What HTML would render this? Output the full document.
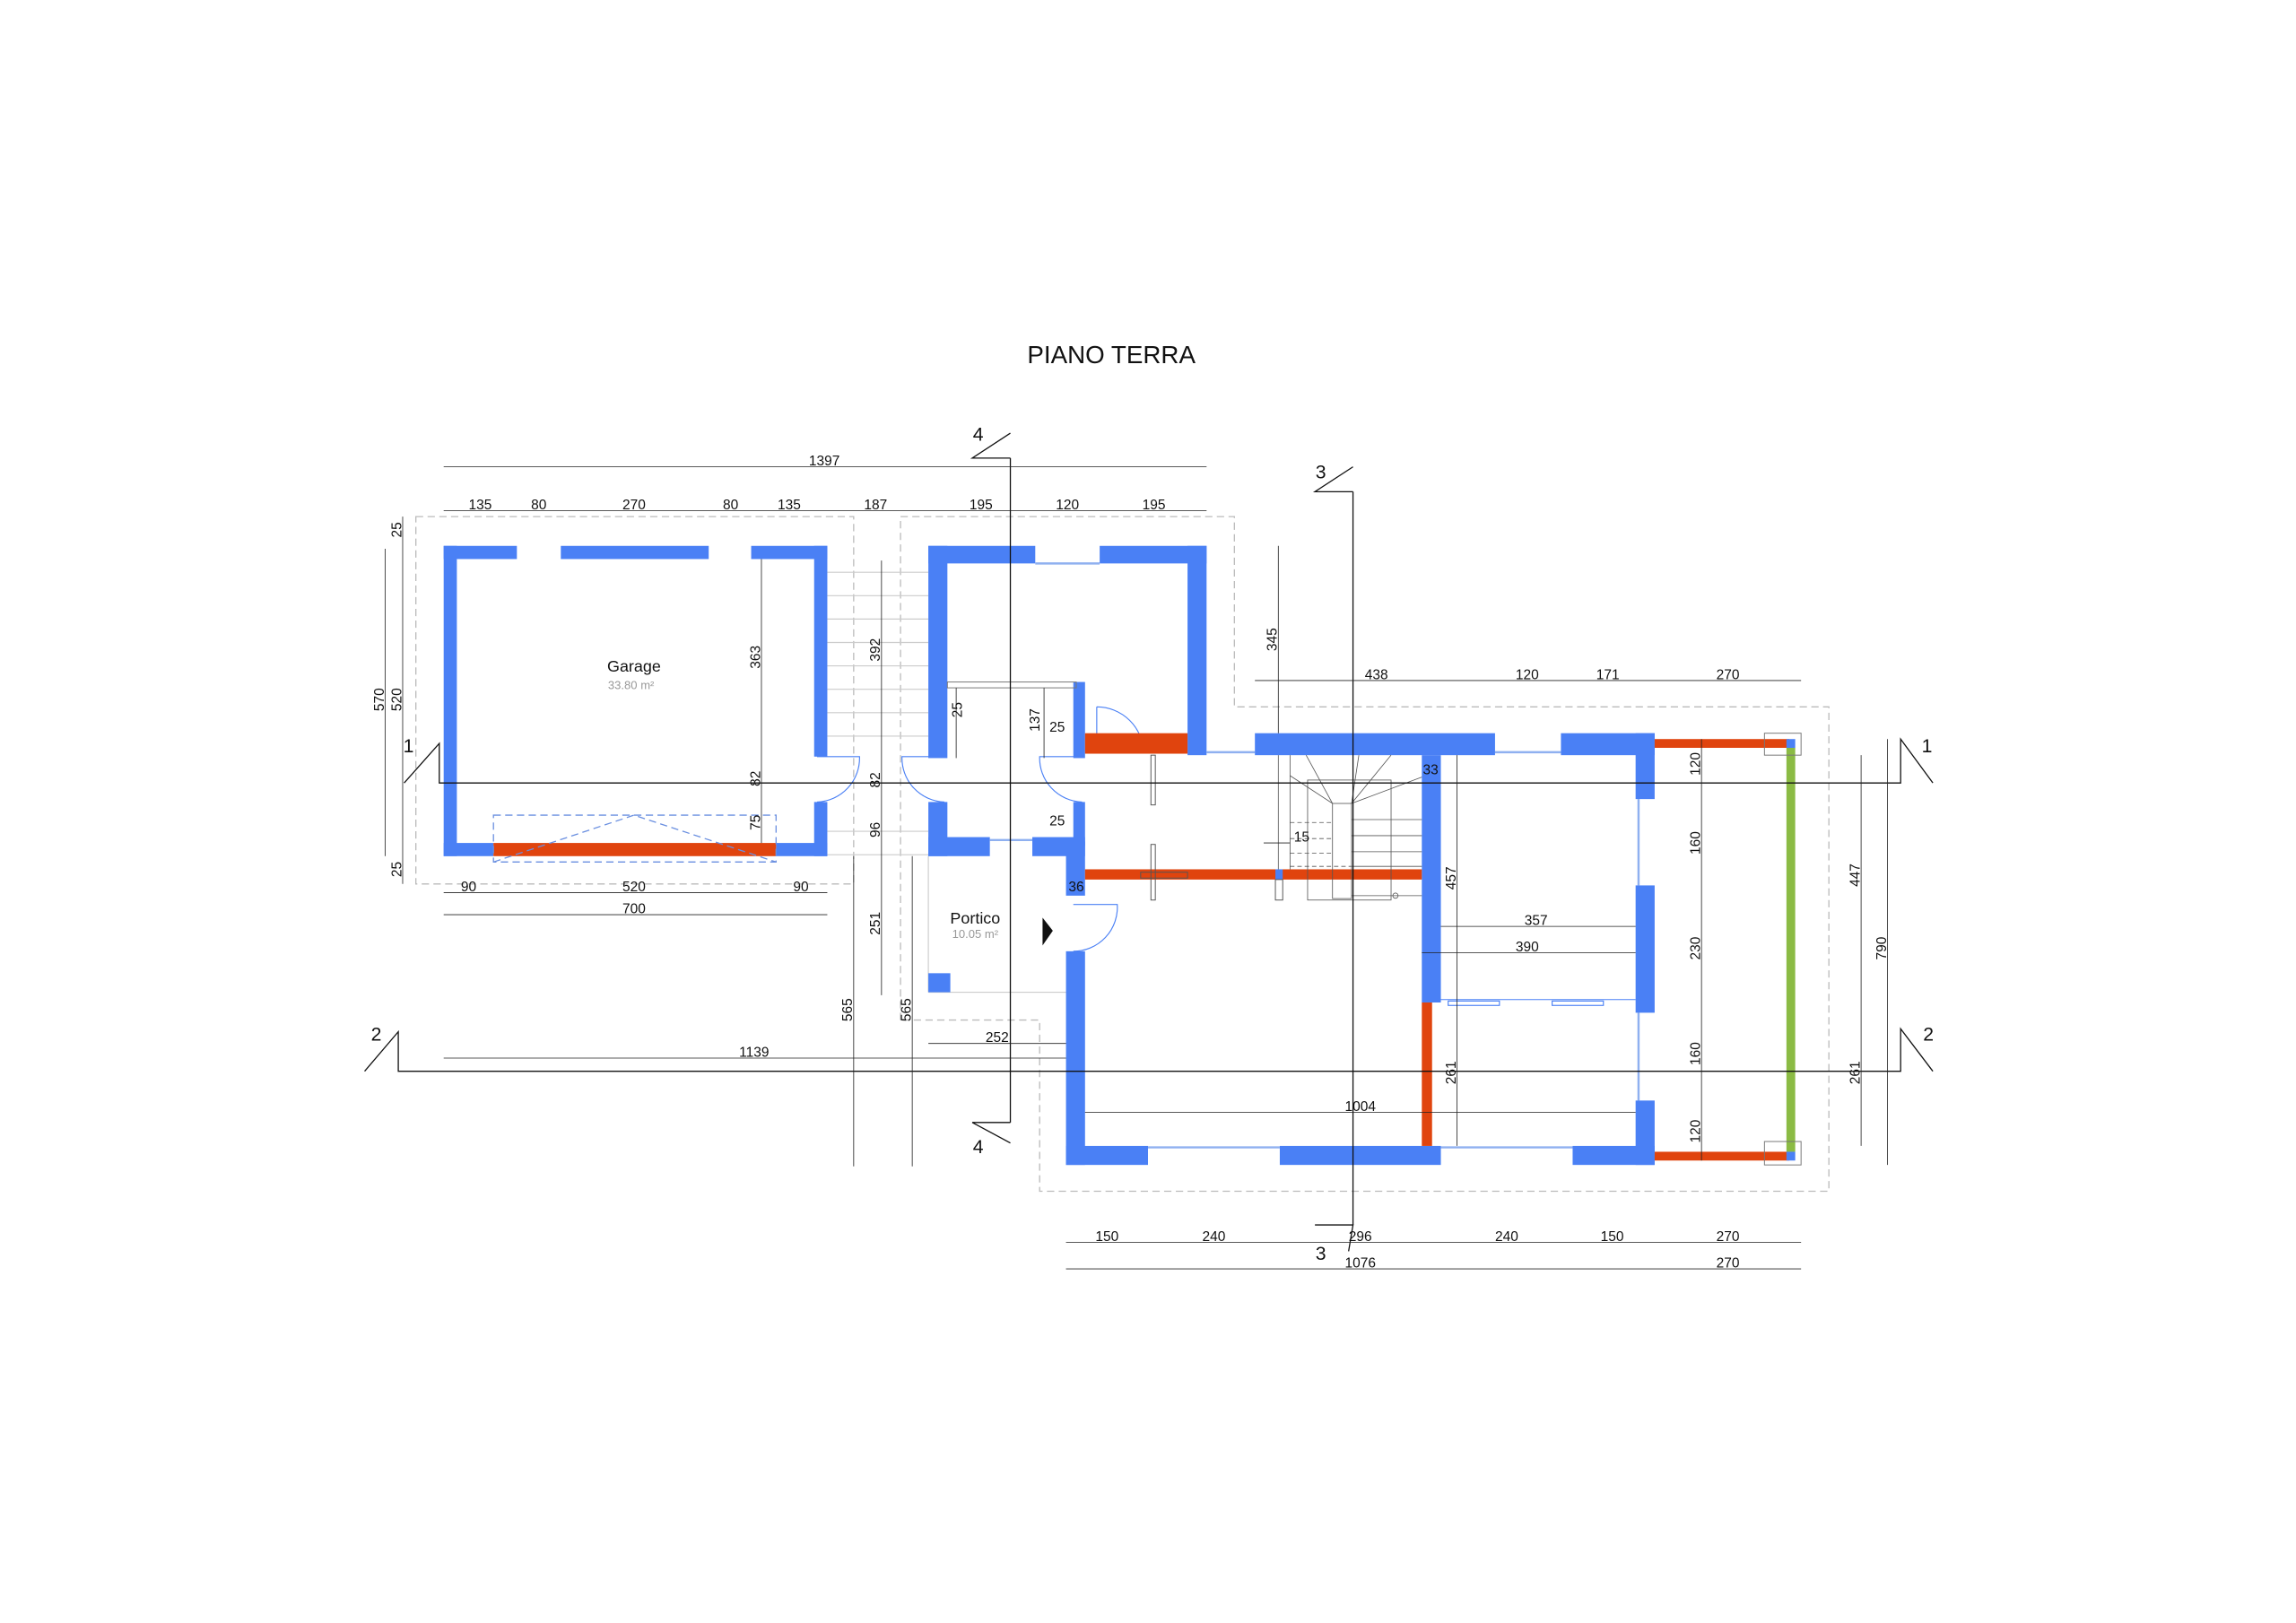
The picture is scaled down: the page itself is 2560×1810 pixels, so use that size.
<!DOCTYPE html>
<html><head><meta charset="utf-8"><style>
html,body{margin:0;padding:0;background:#fff}
svg{display:block}
text{font-family:"Liberation Sans",sans-serif;fill:#111}
</style></head><body>
<svg width="2560" height="1810" viewBox="0 0 1568 1109" preserveAspectRatio="none" xmlns="http://www.w3.org/2000/svg">
<rect width="1568" height="1109" fill="#fff"/>
<text x="759" y="248" font-size="17" text-anchor="middle" font-family="DejaVu Sans Condensed, Liberation Sans Narrow, sans-serif">PIANO TERRA</text>

<g fill="none" stroke="#bbb" stroke-width="0.8" stroke-dasharray="5,3">
<rect x="284" y="353" width="299" height="251"/>
<polyline points="615,697 615,353 843,353 843,483 1249,483 1249,814 710,814 710,697 615,697"/>
</g>

<g stroke="#ccc" stroke-width="0.7" fill="none">
<line x1="565" y1="391" x2="634" y2="391"/><line x1="565" y1="407" x2="634" y2="407"/>
<line x1="565" y1="423" x2="634" y2="423"/><line x1="565" y1="439" x2="634" y2="439"/>
<line x1="565" y1="455" x2="634" y2="455"/><line x1="565" y1="471" x2="634" y2="471"/>
<line x1="565" y1="487" x2="634" y2="487"/><line x1="565" y1="503" x2="634" y2="503"/>
<line x1="565" y1="568" x2="634" y2="568"/><line x1="565" y1="584" x2="634" y2="584"/>
<line x1="634" y1="585" x2="634" y2="678"/><line x1="634" y1="678" x2="728" y2="678"/>
</g>

<g fill="#4a80f5">
<rect x="303" y="373" width="50" height="9"/>
<rect x="383" y="373" width="101" height="9"/>
<rect x="513" y="373" width="52" height="9"/>
<rect x="303" y="373" width="9" height="212"/>
<rect x="556" y="373" width="9" height="144"/>
<rect x="556" y="548" width="9" height="37"/>
<rect x="303" y="576" width="34" height="9"/>
<rect x="530" y="576" width="35" height="9"/>
</g>
<rect x="337" y="576" width="193" height="9" fill="#e0440e"/>
<g fill="none" stroke="#6a8fe0" stroke-width="0.8" stroke-dasharray="5,3">
<rect x="337" y="557" width="193" height="32"/>
<polyline points="337,589 433,557 530,589"/>
</g>
<text x="433" y="459" font-size="11" text-anchor="middle">Garage</text>
<text x="431" y="471" font-size="8" text-anchor="middle" style="fill:#999">33.80 m²</text>

<g fill="none" stroke="#4a80f5" stroke-width="0.7">
<path d="M558 517 L587 517 A30 30 0 0 1 558 548"/>
<path d="M645 517 L616 517 A30 30 0 0 0 645 548"/>
<path d="M739 517 L710 517 A30 30 0 0 0 739 548"/>
<path d="M749 483 L749 515 M749 483 A32 32 0 0 1 781 515"/>
<path d="M733 618 L763 618 A30 30 0 0 1 733 650"/>
</g>

<g fill="#4a80f5">
<rect x="634" y="373" width="73" height="12"/>
<rect x="751" y="373" width="73" height="12"/>
<rect x="634" y="373" width="13" height="145"/>
<rect x="634" y="548" width="13" height="37"/>
<rect x="634" y="572" width="42" height="13"/>
<rect x="705" y="572" width="36" height="13"/>
<rect x="811" y="373" width="13" height="143"/>
<rect x="733" y="466" width="8" height="52"/>
<rect x="733" y="548" width="8" height="30"/>
<rect x="728" y="575" width="13" height="37"/>
<rect x="728" y="650" width="13" height="146"/>
<rect x="634" y="665" width="15" height="13"/>
</g>
<g stroke="#8fb0f0" stroke-width="1.5">
<line x1="707" y1="385" x2="751" y2="385"/>
<line x1="676" y1="574" x2="705" y2="574"/>
<line x1="824" y1="514" x2="857" y2="514"/>
<line x1="1021" y1="514" x2="1066" y2="514"/>
<line x1="784" y1="784" x2="874" y2="784"/>
<line x1="984" y1="784" x2="1074" y2="784"/>
<line x1="1119" y1="546" x2="1119" y2="605"/>
<line x1="1119" y1="692" x2="1119" y2="752"/>
</g>
<rect x="647" y="466" width="88" height="4" fill="none" stroke="#777" stroke-width="0.6"/>
<rect x="741" y="501" width="70" height="14" fill="#e0440e"/>

<g fill="#4a80f5">
<rect x="857" y="501" width="164" height="15"/>
<rect x="1066" y="501" width="64" height="15"/>
<rect x="1117" y="501" width="13" height="45"/>
<rect x="1117" y="605" width="13" height="87"/>
<rect x="1117" y="752" width="13" height="44"/>
<rect x="728" y="783" width="56" height="13"/>
<rect x="874" y="783" width="110" height="13"/>
<rect x="1074" y="783" width="56" height="13"/>
<rect x="971" y="516" width="13" height="169"/>
</g>
<rect x="971" y="685" width="7" height="98" fill="#e0440e"/>
<rect x="741" y="594" width="230" height="7" fill="#e0440e"/>
<rect x="871" y="594" width="5" height="7" fill="#4a80f5"/>
<g fill="none" stroke="#555" stroke-width="0.6">
<rect x="786" y="516" width="3" height="34"/><rect x="786" y="577" width="3" height="38"/>
<rect x="779" y="596" width="32" height="4"/>
<rect x="871" y="601" width="5" height="14"/>
</g>
<g fill="none" stroke="#555" stroke-width="0.5">
<line x1="873" y1="516" x2="873" y2="594"/><line x1="881" y1="516" x2="881" y2="594"/>
<rect x="893" y="533" width="57" height="82"/>
<rect x="910" y="549" width="13" height="65"/>
<line x1="892" y1="516" x2="910" y2="549"/><line x1="928" y1="516" x2="923" y2="549"/>
<line x1="950" y1="516" x2="923" y2="549"/><line x1="881" y1="530" x2="910" y2="549"/>
<line x1="971" y1="531" x2="923" y2="549"/>
<line x1="923" y1="560" x2="971" y2="560"/><line x1="923" y1="571" x2="971" y2="571"/>
<line x1="923" y1="582" x2="971" y2="582"/><line x1="923" y1="592" x2="971" y2="592"/>
<line x1="923" y1="612" x2="971" y2="612"/>
<circle cx="953" cy="612" r="1.8"/>
</g>
<g fill="none" stroke="#555" stroke-width="0.5" stroke-dasharray="3,2">
<line x1="881" y1="562" x2="910" y2="562"/><line x1="881" y1="573" x2="910" y2="573"/>
<line x1="881" y1="583" x2="910" y2="583"/><line x1="881" y1="592" x2="923" y2="592"/>
</g>
<g fill="none" stroke="#4a80f5" stroke-width="0.7">
<rect x="989" y="684" width="35" height="3"/><rect x="1060" y="684" width="35" height="3"/>
</g>
<line x1="984" y1="683" x2="1117" y2="683" stroke="#4a80f5" stroke-width="0.6"/>
<rect x="1130" y="505" width="92" height="6" fill="#e0440e"/>
<rect x="1130" y="787" width="92" height="6" fill="#e0440e"/>
<rect x="1220" y="511" width="6" height="276" fill="#8bbb44"/>
<rect x="1220" y="505" width="6" height="6" fill="#4a80f5"/>
<rect x="1220" y="787" width="6" height="6" fill="#4a80f5"/>
<g fill="none" stroke="#777" stroke-width="0.6">
<rect x="1205" y="501" width="25" height="15"/><rect x="1205" y="780" width="25" height="16"/>
</g>

<text x="666" y="631" font-size="11" text-anchor="middle">Portico</text>
<text x="666" y="641" font-size="8" text-anchor="middle" style="fill:#999">10.05 m²</text>
<polygon points="712,627 719,636 712,646" fill="#111"/>

<g fill="none" stroke="#111" stroke-width="0.8">
<polyline points="276,535 300,508 300,535 1298,535 1298,505 1320,535"/>
<polyline points="249,732 272,705 272,732 1298,732 1298,703 1320,732"/>
<polyline points="690,313 664,313 690,296"/><line x1="690" y1="313" x2="690" y2="767"/>
<polyline points="690,781 664,767 690,767"/>
<polyline points="924,336 898,336 924,319"/><line x1="924" y1="336" x2="924" y2="837"/>
<polyline points="898,837 924,837 921,855"/>
</g>
<g font-size="13">
<text x="279" y="514" text-anchor="middle">1</text><text x="1316" y="514" text-anchor="middle">1</text>
<text x="257" y="711" text-anchor="middle">2</text><text x="1317" y="711" text-anchor="middle">2</text>
<text x="668" y="301" text-anchor="middle">4</text><text x="668" y="788" text-anchor="middle">4</text>
<text x="902" y="327" text-anchor="middle">3</text><text x="902" y="861" text-anchor="middle">3</text>
</g>

<g stroke="#222" stroke-width="0.5" fill="none">
<line x1="303" y1="319" x2="824" y2="319"/>
<line x1="303" y1="349" x2="824" y2="349"/>
<line x1="303" y1="610" x2="565" y2="610"/>
<line x1="303" y1="625" x2="565" y2="625"/>
<line x1="263" y1="375" x2="263" y2="585"/>
<line x1="275" y1="353" x2="275" y2="604"/>
<line x1="520" y1="382" x2="520" y2="576"/>
<line x1="602" y1="383" x2="602" y2="680"/>
<line x1="583" y1="585" x2="583" y2="797"/>
<line x1="623" y1="585" x2="623" y2="797"/>
<line x1="873" y1="373" x2="873" y2="501"/>
<line x1="857" y1="465" x2="1230" y2="465"/>
<line x1="1162" y1="505" x2="1162" y2="793"/>
<line x1="1271" y1="516" x2="1271" y2="783"/>
<line x1="1289" y1="505" x2="1289" y2="796"/>
<line x1="995" y1="516" x2="995" y2="783"/>
<line x1="984" y1="633" x2="1117" y2="633"/>
<line x1="971" y1="651" x2="1117" y2="651"/>
<line x1="741" y1="760" x2="1117" y2="760"/>
<line x1="634" y1="713" x2="728" y2="713"/>
<line x1="303" y1="723" x2="728" y2="723"/>
<line x1="728" y1="849" x2="1230" y2="849"/>
<line x1="728" y1="867" x2="1230" y2="867"/>
<line x1="653" y1="470" x2="653" y2="518"/>
<line x1="713" y1="470" x2="713" y2="518"/>
<line x1="863" y1="576" x2="881" y2="576"/>
</g>

<g font-size="9.5" text-anchor="middle">
<text x="563" y="318">1397</text>
<text x="328" y="348">135</text><text x="368" y="348">80</text><text x="433" y="348">270</text>
<text x="499" y="348">80</text><text x="539" y="348">135</text><text x="598" y="348">187</text>
<text x="670" y="348">195</text><text x="729" y="348">120</text><text x="788" y="348">195</text>
<text x="320" y="609">90</text><text x="433" y="609">520</text><text x="547" y="609">90</text>
<text x="433" y="624">700</text>
<text x="940" y="464">438</text><text x="1043" y="464">120</text><text x="1098" y="464">171</text><text x="1180" y="464">270</text>
<text x="1049" y="632">357</text><text x="1043" y="650">390</text>
<text x="929" y="759">1004</text>
<text x="681" y="712">252</text><text x="515" y="722">1139</text>
<text x="756" y="848">150</text><text x="829" y="848">240</text><text x="929" y="848">296</text>
<text x="1029" y="848">240</text><text x="1101" y="848">150</text><text x="1180" y="848">270</text>
<text x="929" y="866">1076</text><text x="1180" y="866">270</text>
<text x="722" y="500">25</text><text x="722" y="564">25</text><text x="735" y="609">36</text>
<text x="977" y="529">33</text><text x="889" y="575">15</text>
</g>
<g font-size="9.5" text-anchor="middle">
<text transform="translate(274,362) rotate(-90)">25</text>
<text transform="translate(274,478) rotate(-90)">520</text>
<text transform="translate(274,594) rotate(-90)">25</text>
<text transform="translate(262,478) rotate(-90)">570</text>
<text transform="translate(519,449) rotate(-90)">363</text>
<text transform="translate(519,532) rotate(-90)">82</text>
<text transform="translate(519,562) rotate(-90)">75</text>
<text transform="translate(601,444) rotate(-90)">392</text>
<text transform="translate(601,533) rotate(-90)">82</text>
<text transform="translate(601,567) rotate(-90)">96</text>
<text transform="translate(601,631) rotate(-90)">251</text>
<text transform="translate(582,690) rotate(-90)">565</text>
<text transform="translate(622,690) rotate(-90)">565</text>
<text transform="translate(872,437) rotate(-90)">345</text>
<text transform="translate(657,485) rotate(-90)">25</text>
<text transform="translate(710,492) rotate(-90)">137</text>
<text transform="translate(994,600) rotate(-90)">457</text>
<text transform="translate(994,733) rotate(-90)">261</text>
<text transform="translate(1161,522) rotate(-90)">120</text>
<text transform="translate(1161,576) rotate(-90)">160</text>
<text transform="translate(1161,648) rotate(-90)">230</text>
<text transform="translate(1161,720) rotate(-90)">160</text>
<text transform="translate(1161,773) rotate(-90)">120</text>
<text transform="translate(1270,598) rotate(-90)">447</text>
<text transform="translate(1270,733) rotate(-90)">261</text>
<text transform="translate(1288,648) rotate(-90)">790</text>
</g>
</svg>
</body></html>
